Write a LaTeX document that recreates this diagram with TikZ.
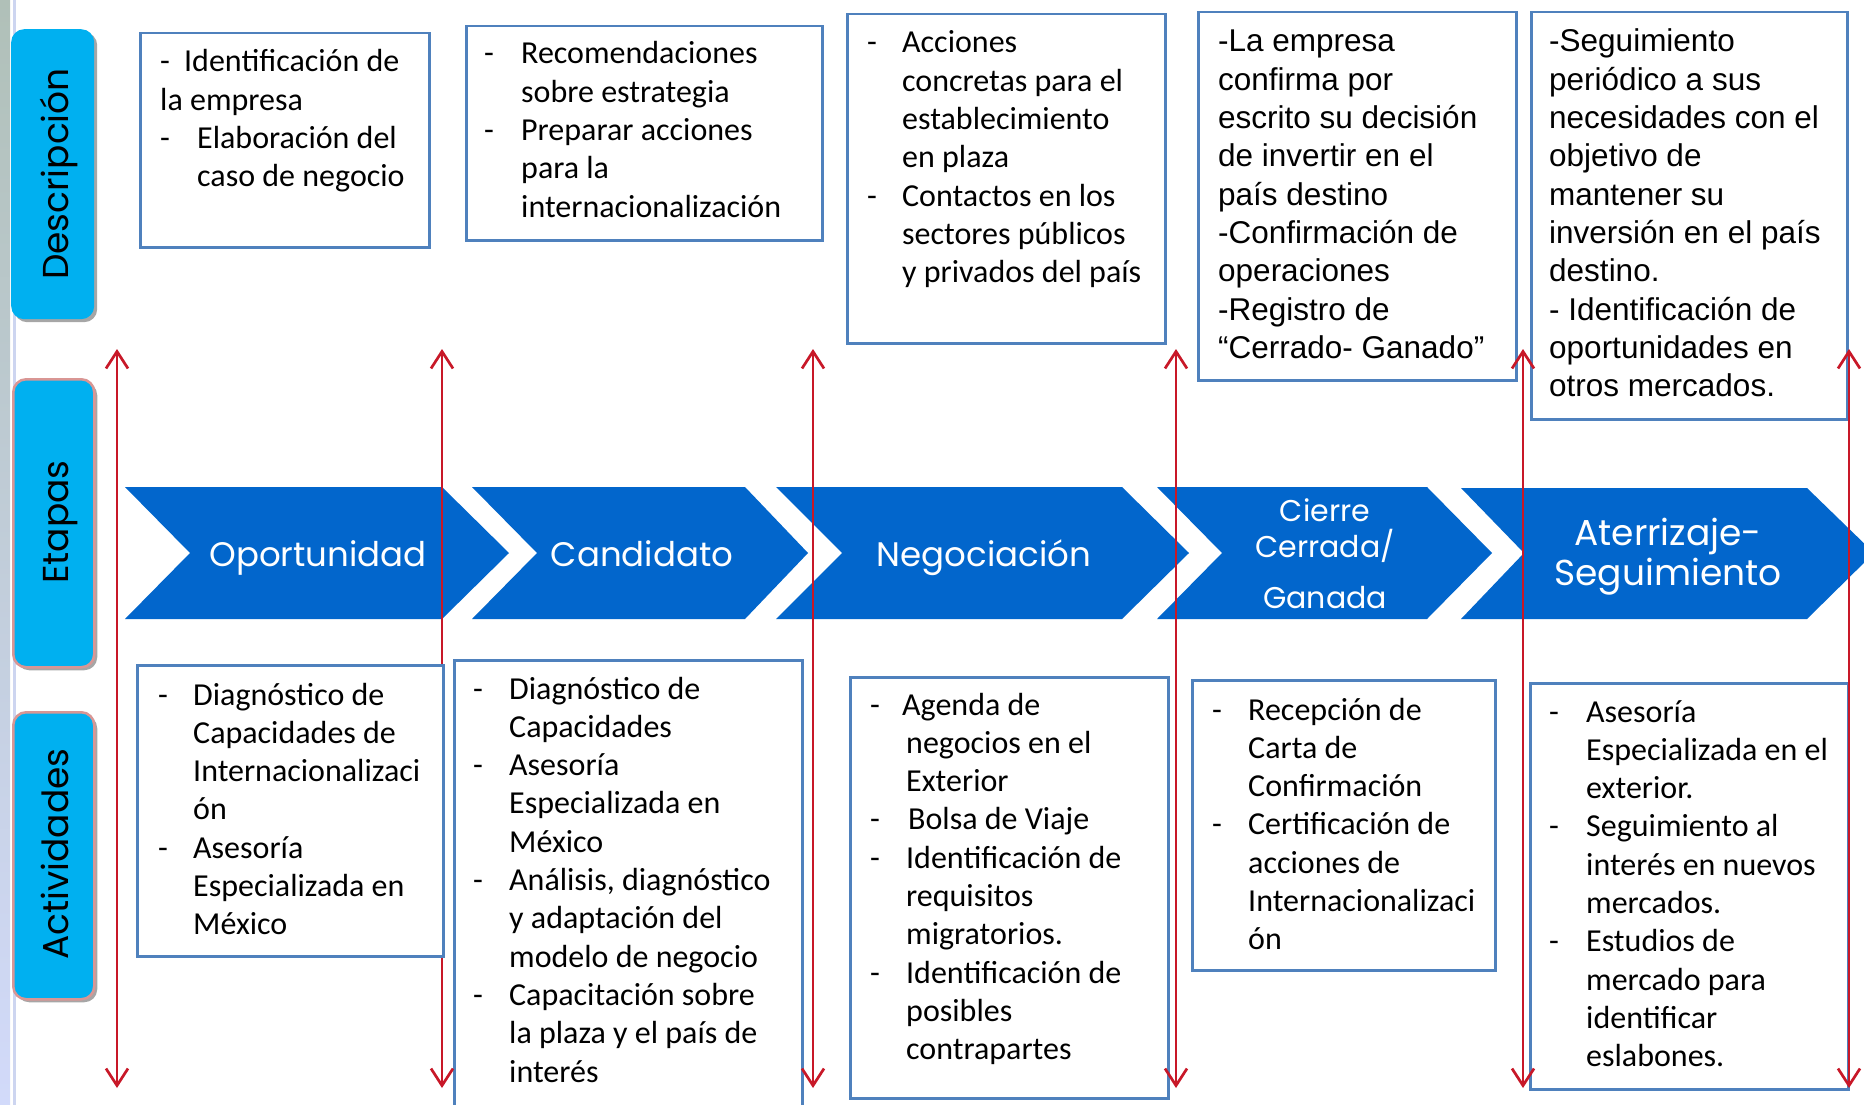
\documentclass[tikz,border=0pt]{standalone}
\usepackage{fontspec}
\setmainfont{Carlito}
\newfontfamily\arialf{Liberation Sans}
\newfontfamily\gothic{Poppins}
\usetikzlibrary{arrows.meta,shadows}
\definecolor{labcyan}{RGB}{0,176,240}
\definecolor{chevblue}{RGB}{2,102,204}
\definecolor{boxblue}{RGB}{79,129,189}
\definecolor{arrred}{RGB}{200,24,40}
\definecolor{pinkb}{RGB}{217,150,148}
\definecolor{bandtop}{RGB}{176,192,184}
\definecolor{bandbot}{RGB}{210,218,250}
\definecolor{bandline}{RGB}{205,213,240}
\newcommand\dl[2]{\hbox{\makebox[#1pt][l]{-}#2}}
\newcommand\cl[2]{\hbox{\hspace*{#1pt}#2}}
\newcommand\txtlines[1]{\vtop{\baselineskip=38.3pt\lineskiplimit=-100pt\lineskip=0pt #1}}
\begin{document}
\begin{tikzpicture}[x=1pt,y=-1pt,
 dbox/.style={draw=boxblue, line width=2.5pt, fill=white, anchor=north west, inner sep=0},
 lab/.style={fill=labcyan, rounded corners=13pt, anchor=north west, inner sep=0,
   drop shadow={shadow xshift=3pt, shadow yshift=-3pt, opacity=0.35, fill=black}},
 labpink/.style={lab, draw=pinkb, line width=2.5pt},
 chev/.style={fill=chevblue},
 chevtxt/.style={text=white, font=\gothic\fontsize{34}{40}\selectfont, anchor=base, inner sep=0},
 labtxt/.style={rotate=90, anchor=base, font=\gothic\fontsize{36}{40}\selectfont, inner sep=0},
 body/.style={anchor=base west, inner sep=0, font=\fontsize{32}{38.3}\selectfont},
 abody/.style={anchor=base west, inner sep=0, font=\arialf\fontsize{31.5}{38.3}\selectfont},
 arr/.style={draw=arrred, line width=2.7pt, {Straight Barb[length=17pt,width=22pt]}-{Straight Barb[length=17pt,width=22pt]}}
]
\useasboundingbox (0,0) rectangle (1864,1105);
\fill[white] (0,0) rectangle (1864,1105);
% left band
\fill[top color=bandtop, bottom color=bandbot] (0,0) rectangle (10,1105);
\draw[bandline, line width=2.5pt] (14.5,0) -- (14.5,1105);

% side labels
\node[lab, minimum width=83pt, minimum height=290pt] (ldesc) at (11,29) {};
\node[labtxt] (ldesct) at (68,174) {Descripción};
\node[labpink, minimum width=81pt, minimum height=288pt] (letap) at (12,378) {};
\node[labtxt] (letapt) at (68,522) {Etapas};
\node[labpink, minimum width=81pt, minimum height=287pt] (lact) at (12,711) {};
\node[labtxt] (lactt) at (68,854) {Actividades};

% chevrons
\fill[chev] (125,487) -- (442,487) -- (509,553) -- (442,619) -- (125,619) -- (190,553) -- cycle;
\fill[chev] (472,487) -- (745,487) -- (808,553) -- (745,619) -- (472,619) -- (537,553) -- cycle;
\fill[chev] (776,487) -- (1122,487) -- (1189,553) -- (1122,619) -- (776,619) -- (842,553) -- cycle;
\fill[chev] (1157,487) -- (1427,487) -- (1492,553) -- (1427,619) -- (1157,619) -- (1222,553) -- cycle;
\fill[chev] (1461,488) -- (1807,488) -- (1874,553) -- (1807,619) -- (1461,619) -- (1524,553) -- cycle;
\node[chevtxt] (c1) at (318,566) {Oportunidad};
\node[chevtxt] (c2) at (642,566) {Candidato};
\node[chevtxt] (c3) at (984,566) {Negociación};
\node[chevtxt, font=\gothic\fontsize{30}{36}\selectfont] (c4) at (1325,521)
  {\vtop{\baselineskip=36pt\lineskiplimit=-100pt\halign{\hfil#\hfil\cr Cierre\cr Cerrada/\cr\noalign{\vskip15pt} Ganada\cr}}};
\node[chevtxt, font=\gothic\fontsize{36}{40}\selectfont] (c5) at (1668,545)
  {\vtop{\baselineskip=40pt\lineskiplimit=-100pt\halign{\hfil#\hfil\cr Aterrizaje-\cr Seguimiento\cr}}};

% description boxes
\node[dbox, minimum width=289pt, minimum height=214pt] (d1) at (139,32) {};
\node[dbox, minimum width=356pt, minimum height=214pt] (d2) at (465,25) {};
\node[dbox, minimum width=318pt, minimum height=329pt] (d3) at (846,13) {};
\node[dbox, minimum width=318pt, minimum height=368pt] (d4) at (1197,11) {};
\node[dbox, minimum width=316pt, minimum height=407pt] (d5) at (1530,11) {};
\node[body] (d1t) at (160,72) {\txtlines{\dl{24}{Identificación de}\cl{0}{la empresa}\dl{37}{Elaboración del}\cl{37}{caso de negocio}}};
\node[body] (d2t) at (484,64) {\txtlines{\dl{37}{Recomendaciones}\cl{37}{sobre estrategia}\dl{37}{Preparar acciones}\cl{37}{para la}\cl{37}{internacionalización}}};
\node[body] (d3t) at (867,53) {\txtlines{\dl{35}{Acciones}\cl{35}{concretas para el}\cl{35}{establecimiento}\cl{35}{en plaza}\dl{35}{Contactos en los}\cl{35}{sectores públicos}\cl{35}{y privados del país}}};
\node[abody] (d4t) at (1218,52) {\txtlines{\hbox{-La empresa}\hbox{confirma por}\hbox{escrito su decisión}\hbox{de invertir en el}\hbox{país destino}\hbox{-Confirmación de}\hbox{operaciones}\hbox{-Registro de}\hbox{“Cerrado- Ganado”}}};
\node[abody] (d5t) at (1549,52) {\txtlines{\hbox{-Seguimiento}\hbox{periódico a sus}\hbox{necesidades con el}\hbox{objetivo de}\hbox{mantener su}\hbox{inversión en el país}\hbox{destino.}\hbox{- Identificación de}\hbox{oportunidades en}\hbox{otros mercados.}}};

% activity boxes (except first)
\node[dbox, minimum width=348pt, minimum height=460pt] (a2) at (453,659) {};
\node[dbox, minimum width=318pt, minimum height=421pt] (a3) at (849,676) {};
\node[dbox, minimum width=303pt, minimum height=290pt] (a4) at (1191,679) {};
\node[dbox, minimum width=318pt, minimum height=406pt] (a5) at (1529,682) {};
\node[body] (a2t) at (473,699) {\txtlines{\dl{36}{Diagnóstico de}\cl{36}{Capacidades}\dl{36}{Asesoría}\cl{36}{Especializada en}\cl{36}{México}\dl{36}{Análisis, diagnóstico}\cl{36}{y adaptación del}\cl{36}{modelo de negocio}\dl{36}{Capacitación sobre}\cl{36}{la plaza y el país de}\cl{36}{interés}}};
\node[body] (a3t) at (870,715) {\txtlines{\dl{32}{Agenda de}\cl{36}{negocios en el}\cl{36}{Exterior}\dl{38}{Bolsa de Viaje}\dl{36}{Identificación de}\cl{36}{requisitos}\cl{36}{migratorios.}\dl{36}{Identificación de}\cl{36}{posibles}\cl{36}{contrapartes}}};
\node[body] (a4t) at (1212,720) {\txtlines{\dl{36}{Recepción de}\cl{36}{Carta de}\cl{36}{Confirmación}\dl{36}{Certificación de}\cl{36}{acciones de}\cl{36}{Internacionalizaci}\cl{36}{ón}}};
\node[body] (a5t) at (1549,722) {\txtlines{\dl{37}{Asesoría}\cl{37}{Especializada en el}\cl{37}{exterior.}\dl{37}{Seguimiento al}\cl{37}{interés en nuevos}\cl{37}{mercados.}\dl{37}{Estudios de}\cl{37}{mercado para}\cl{37}{identificar}\cl{37}{eslabones.}}};

% red double arrows
\foreach \i/\xx in {1/117,2/442,3/813,4/1176,5/1523,6/1849}{
  \coordinate (r\i t) at (\xx,349);
  \coordinate (r\i b) at (\xx,1088);
}
\foreach \i in {1,...,6}{ \draw[arr] (r\i t) -- (r\i b); }

% first activity box over the arrow
\node[dbox, minimum width=306pt, minimum height=291pt] (a1) at (136,664) {};
\node[body] (a1t) at (158,705) {\txtlines{\dl{35}{Diagnóstico de}\cl{35}{Capacidades de}\cl{35}{Internacionalizaci}\cl{35}{ón}\dl{35}{Asesoría}\cl{35}{Especializada en}\cl{35}{México}}};
\end{tikzpicture}
\end{document}
